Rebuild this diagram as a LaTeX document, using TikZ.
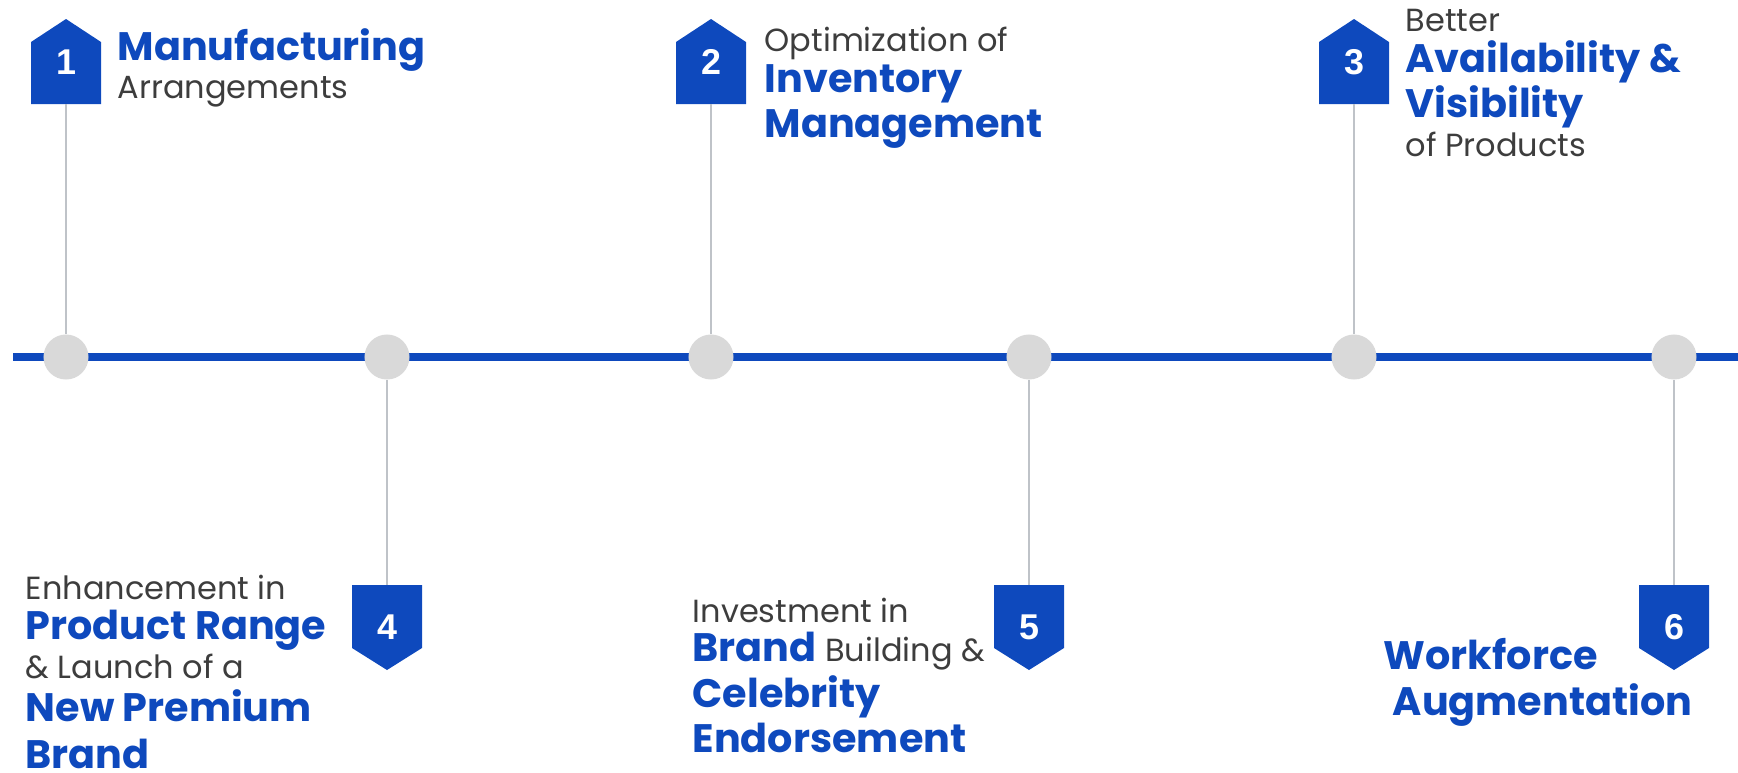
\documentclass[tikz,border=0pt]{standalone}
\usepackage{fontspec}
\setmainfont{Poppins}
\newfontfamily\numfont{Liberation Sans}
\usepackage{xcolor}
\usepackage{tikz}
\usetikzlibrary{positioning}
\definecolor{TimeBlue}{HTML}{0E49BD}
\definecolor{TextGray}{HTML}{3D3D3D}
\definecolor{DotGray}{HTML}{D9D9D9}
\definecolor{StemGray}{HTML}{BFC3C8}

% bold blue words inside the blurbs
\newcommand{\keyterm}[1]{{\fontsize{11.3pt}{4.2mm}\selectfont\bfseries\color{TimeBlue}#1}}
% fixed line pitch for the blurbs
\newcommand{\blurbfont}{\fontsize{9.1pt}{4.2mm}\selectfont\lineskiplimit-10mm\relax}

\tikzset{
  dot/.style={circle, fill=DotGray, minimum size=4.5mm, inner sep=0pt},
  stem/.style={draw=StemGray, line width=0.2mm},
  timeline/.style={draw=TimeBlue, line width=0.8mm},
  badgenum/.style={text=white, inner sep=0pt, font=\numfont\bfseries\fontsize{10.2pt}{12pt}\selectfont},
  blurb/.style={anchor=base west, align=left, inner sep=0pt, text=TextGray, font=\blurbfont}
}

\begin{document}
\begin{tikzpicture}[x=0.01cm, y=-0.01cm]
\useasboundingbox (0,0) rectangle (1738,772);

% the axis and its six stops
\coordinate (start) at (13,357);
\coordinate (end) at (1738,357);
\draw[timeline] (start) -- (end);
\node[dot] (d1) at (66,357) {};
\node[dot] (d2) at (387,357) {};
\node[dot] (d3) at (711,357) {};
\node[dot] (d4) at (1029,357) {};
\node[dot] (d5) at (1354,357) {};
\node[dot] (d6) at (1674,357) {};

% badges above the line (1-3)
\fill[TimeBlue] (31,104) -- ++(0,-62) -- ++(35,-23) -- ++(35,23) -- ++(0,62) -- cycle;
\fill[TimeBlue] (676,104) -- ++(0,-62) -- ++(35,-23) -- ++(35,23) -- ++(0,62) -- cycle;
\fill[TimeBlue] (1319,104) -- ++(0,-62) -- ++(35,-23) -- ++(35,23) -- ++(0,62) -- cycle;
\node[badgenum] (n1) at (66,62) {1};
\node[badgenum] (n2) at (711,62) {2};
\node[badgenum] (n3) at (1354,62) {3};
\coordinate (b1) at (66,104);
\coordinate (b2) at (711,104);
\coordinate (b3) at (1354,104);
\draw[stem] (d1) -- (b1);
\draw[stem] (d3) -- (b2);
\draw[stem] (d5) -- (b3);

% badges below the line (4-6)
\fill[TimeBlue] (352,585) -- ++(0,63) -- ++(35,22) -- ++(35,-22) -- ++(0,-63) -- cycle;
\fill[TimeBlue] (994,585) -- ++(0,63) -- ++(35,22) -- ++(35,-22) -- ++(0,-63) -- cycle;
\fill[TimeBlue] (1639,585) -- ++(0,63) -- ++(35,22) -- ++(35,-22) -- ++(0,-63) -- cycle;
\node[badgenum] (n4) at (387,627) {4};
\node[badgenum] (n5) at (1029,627) {5};
\node[badgenum] (n6) at (1674,627) {6};
\coordinate (b4) at (387,585);
\coordinate (b5) at (1029,585);
\coordinate (b6) at (1674,585);
\draw[stem] (d2) -- (b4);
\draw[stem] (d4) -- (b5);
\draw[stem] (d6) -- (b6);

% texts, placed by the baseline of their last line
\node[blurb] (t1) at (117,98) {\keyterm{Manufacturing}\\[-0.5mm]Arrangements};
\node[blurb] (t2) at (764,137) {Optimization of\\[-0.1mm]\keyterm{Inventory}\\[0.2mm]\keyterm{Management}};
\node[blurb] (t3) at (1405,156) {Better\\[-0.1mm]\keyterm{Availability \&}\\[0.3mm]\keyterm{Visibility}\\[-0.4mm]of Products};
\node[blurb] (t4) at (25,768) {Enhancement in\\[-0.2mm]\keyterm{Product Range}\\[-0.3mm]\& Launch of a\\[0.1mm]\keyterm{New Premium}\\[0.4mm]\keyterm{Brand}};
\node[blurb] (t5) at (692,752) {Investment in\\[-0.3mm]\keyterm{Brand} Building \&\\[0.4mm]\keyterm{Celebrity}\\[0.2mm]\keyterm{Endorsement}};
\node[blurb] (t6) at (1383,715) {\keyterm{Workforce}\\[0.3mm]\hspace*{0.9mm}\keyterm{Augmentation}};
\end{tikzpicture}
\end{document}
